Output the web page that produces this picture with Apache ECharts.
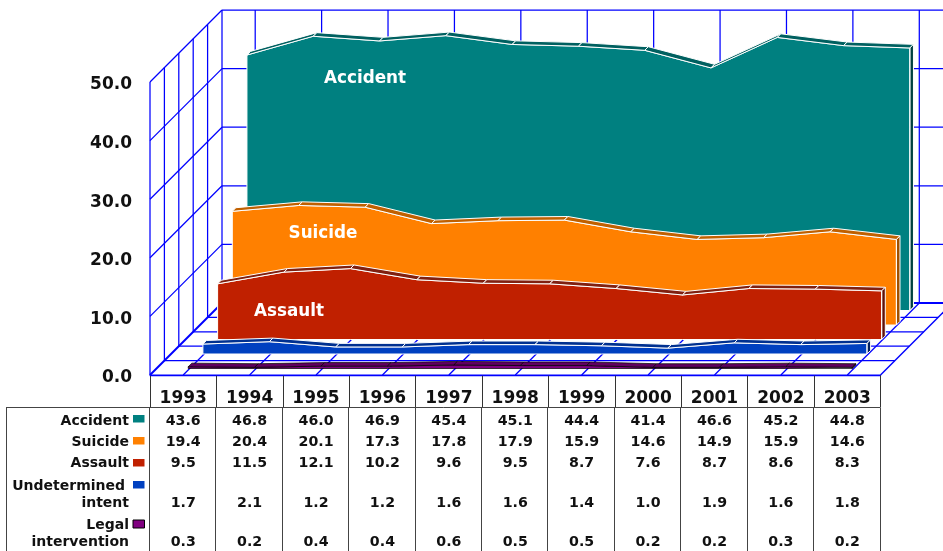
<!DOCTYPE html>
<html><head><meta charset="utf-8">
<style>html,body{margin:0;padding:0;background:#fff}#c{width:943px;height:551px}</style>
<script src="https://cdn.jsdelivr.net/npm/echarts@6/dist/echarts.min.js"></script>
</head><body><div id="c"></div>
<script>
const years = ['1993','1994','1995','1996','1997','1998','1999','2000','2001','2002','2003'];
const accident = [43.6,46.8,46.0,46.9,45.4,45.1,44.4,41.4,46.6,45.2,44.8];
const suicide = [19.4,20.4,20.1,17.3,17.8,17.9,15.9,14.6,14.9,15.9,14.6];
const assault = [9.5,11.5,12.1,10.2,9.6,9.5,8.7,7.6,8.7,8.6,8.3];
const undetermined = [1.7,2.1,1.2,1.2,1.6,1.6,1.4,1.0,1.9,1.6,1.8];
const legal = [0.3,0.2,0.4,0.4,0.6,0.5,0.5,0.2,0.2,0.3,0.2];
const seriesNames = ['Accident','Suicide','Assault','Undetermined intent','Legal intervention'];
const seriesValues = [accident,suicide,assault,undetermined,legal];

const FONT = '"DejaVu Sans", Verdana, sans-serif';
const G = {left:150, top:82, width:730.5, height:293, depth:72};
const faceCol = ['#008080','#FF8000','#C02000','#0040C0','#800080'];
const topCol  = ['#006060','#C06000','#802010','#003090','#600060'];
const sideCol = ['#004040','#A05000','#601008','#002060','#300030'];
const edgeCol = ['#fff','#fff','#fff','#fff','#000'];
const edgeW = [1,1,1,1,0.7];
const RIB = 3.6;
const dxOf = k => 5 + 14.7*k;      // k: slab slot counted from the front
const dyOf = k => 6.5 + 14.5*k;

const BLUE = '#0000FF';
const seg = (a,b,w) => ({type:'line',shape:{x1:a[0],y1:a[1],x2:b[0],y2:b[1]},style:{stroke:BLUE,lineWidth:w||1.25},silent:true});
const add = (p,d) => [p[0]+d,p[1]-d];

function renderWalls(params, api){
  const ch = [];
  const D = G.depth;
  const ticks = [0,10,20,30,40,50];
  const xL = G.left, xR = G.left+G.width;
  const y0 = api.coord([0,0])[1];
  ticks.forEach(v=>{
    const y = api.coord([0,v])[1];
    // left wall diagonals, back wall horizontals
    ch.push(seg([xL,y],[xL+D,y-D], v===0?2:0));
    ch.push(seg([xL+D,y-D],[xR+D,y-D], v===0?2:0));
  });
  const yT = api.coord([0,50])[1];
  for(let k=0;k<=5;k++){
    const d = D*k/5;
    ch.push(seg([xL+d,y0-d],[xL+d,yT-d]));      // left wall verticals
    if(k<5) ch.push(seg([xL+d,y0-d],[xR+d,y0-d])); // floor lines
  }
  years.forEach((_,i)=>{
    const c = api.coord([i,0])[0];
    ch.push(seg([c,y0],[c+D,y0-D]));           // floor diagonals
    ch.push(seg([c+D,y0-D],[c+D,yT-D]));       // back wall verticals
  });
  ch.push(seg([xR,y0],[xR+D,y0-D],1.5));
  return {type:'group',children:ch};
}

function ribbon(idx){
  const vals = seriesValues[idx];
  return function(params, api){
    const i = params.dataIndex, ch = [];
    const p = api.coord([i, api.value(1)]);
    const w = edgeW[idx];
    const style = (f)=>({fill:f,stroke:edgeCol[idx],lineWidth:w});
    if(i < vals.length-1){
      const q = api.coord([i+1, vals[i+1]]);
      ch.push({type:'polygon',shape:{points:[p,q,add(q,RIB),add(p,RIB)]},style:style(topCol[idx])});
    }
    const b = api.coord([i,0]);
    if(i === vals.length-1){
      ch.push({type:'polygon',shape:{points:[b,p,add(p,RIB),add(b,RIB)]},style:style(sideCol[idx])});
    }
    if(i === 0 || i === vals.length-1){
      ch.push({type:'line',shape:{x1:b[0],y1:b[1],x2:p[0],y2:p[1]},style:{stroke:edgeCol[idx],lineWidth:w}});
    }
    if(i < vals.length-1){
      const b2 = api.coord([i+1,0]);
      ch.push({type:'line',shape:{x1:b[0],y1:b[1],x2:b2[0],y2:b2[1]},style:{stroke:edgeCol[idx],lineWidth:w}});
    }
    return {type:'group',children:ch};
  };
}

const rowY = [421,442,463,503,542];
const valueFont = 'bold 14.2px '+FONT;
function renderTable(params, api){
  const col = api.value(0), row = api.value(1), v = api.value(2);
  return {type:'text',style:{text:v.toFixed(1),x:api.coord([col,0])[0],y:rowY[row],font:valueFont,fill:'#111',align:'center',verticalAlign:'middle'},silent:true};
}
const tableData = [];
seriesValues.forEach((arr,r)=>arr.forEach((v,c)=>tableData.push([c,r,v])));

const grids = [{left:G.left,top:G.top,width:G.width,height:G.height}];
const xAxes = [{type:'category',gridIndex:0,data:years,
  axisLine:{show:true,lineStyle:{color:BLUE,width:1.25}},
  axisTick:{show:true,length:32,alignWithLabel:false,lineStyle:{color:'#333',width:1}},
  axisLabel:{margin:15,fontFamily:FONT,fontWeight:'bold',fontSize:17,color:'#111',interval:0}}];
const yAxes = [{type:'value',gridIndex:0,min:0,max:50,interval:10,
  axisLine:{show:false},axisTick:{show:false},splitLine:{show:false},
  axisLabel:{margin:18,verticalAlign:'top',lineHeight:6,fontFamily:FONT,fontWeight:'bold',fontSize:17,color:'#111',formatter:v=>v.toFixed(1)}}];
const series = [
  {type:'custom',name:'walls',xAxisIndex:0,yAxisIndex:0,z:1,silent:true,clip:false,data:[[0,0]],renderItem:renderWalls},
  {type:'custom',name:'table',xAxisIndex:0,yAxisIndex:0,z:1,silent:true,clip:false,data:tableData,renderItem:renderTable,encode:{x:0,y:1}}
];
seriesValues.forEach((vals,i)=>{
  const k = 4-i, ax = i+1;
  grids.push({left:G.left+dxOf(k),top:G.top-dyOf(k),width:G.width,height:G.height});
  xAxes.push({type:'category',gridIndex:ax,data:years,show:false});
  yAxes.push({type:'value',gridIndex:ax,min:0,max:50,interval:10,show:false});
  const rows = vals.map((v,c)=>[c,v]);
  series.push({type:'line',name:seriesNames[i],xAxisIndex:ax,yAxisIndex:ax,data:rows,z:10+2*i,clip:false,silent:true,
    symbol:'none',lineStyle:{color:edgeCol[i],width:edgeW[i]},areaStyle:{color:faceCol[i],opacity:1},itemStyle:{color:faceCol[i]}});
  series.push({type:'custom',name:seriesNames[i]+' depth',xAxisIndex:ax,yAxisIndex:ax,data:rows,z:11+2*i,clip:false,silent:true,
    renderItem:ribbon(i)});
});

const TXT = (text,x,y,extra)=>Object.assign({type:'text',z:50,silent:true,style:Object.assign({text,x,y,font:'bold 14px '+FONT,fill:'#111',align:'right',verticalAlign:'middle'},extra||{})});
const rowLabels = [['Accident',129,421],['Suicide',129,442],['Assault',129,463],['Undetermined',125,486],['intent',129,503],['Legal',129,525],['intervention',129,542]];
const keys = [[0,415],[1,437],[2,459],[3,481],[4,520]];
const inlay = [['Accident',365,79],['Suicide',323,234],['Assault',289,312]];
const graphic = [
  {type:'line',z:40,silent:true,shape:{x1:6,y1:407.5,x2:880.5,y2:407.5},style:{stroke:'#444',lineWidth:1}},
  {type:'line',z:40,silent:true,shape:{x1:6.5,y1:407.5,x2:6.5,y2:551},style:{stroke:'#444',lineWidth:1}}
];
years.concat(['']).forEach((_,i)=>{
  const x = Math.round(G.left+G.width*i/11)-0.5;
  graphic.push({type:'line',z:40,silent:true,shape:{x1:x,y1:407.5,x2:x,y2:551},style:{stroke:'#444',lineWidth:1}});
});
rowLabels.forEach(r=>graphic.push(TXT(r[0],r[1],r[2])));
keys.forEach(k=>graphic.push({type:'rect',z:45,silent:true,shape:{x:133,y:k[1],width:11.5,height:k[0]===4?8:7.5},
  style:{fill:faceCol[k[0]],stroke:k[0]===4?'#000':null,lineWidth:1}}));
inlay.forEach(r=>graphic.push(TXT(r[0],r[1],r[2],{font:'bold 16.8px '+FONT,fill:'#fff',align:'center'})));

const chart = echarts.init(document.getElementById('c'),null,{renderer:'canvas'});
chart.setOption({animation:false,backgroundColor:'#fff',grid:grids,xAxis:xAxes,yAxis:yAxes,series,graphic});
</script></body></html>
